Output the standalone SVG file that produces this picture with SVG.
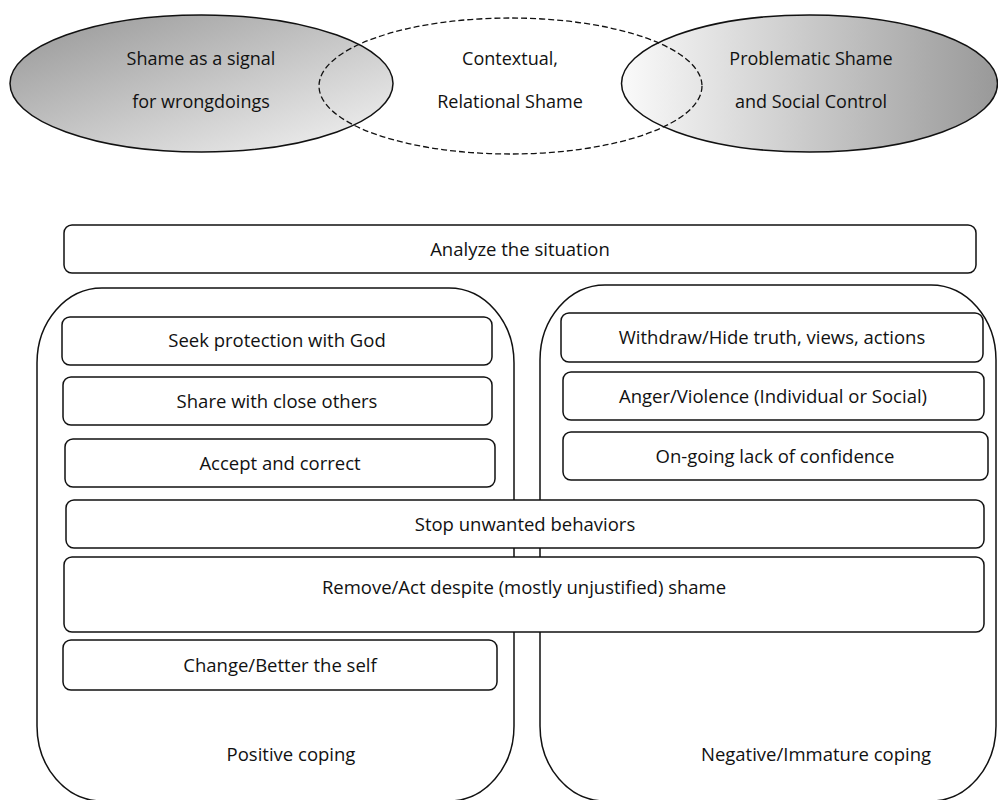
<svg xmlns="http://www.w3.org/2000/svg" width="998" height="800" viewBox="0 0 998 800">
<style>
text{font-family:"Open Sans","Liberation Sans",sans-serif;fill:#111;text-anchor:middle}
.t{font-size:18.5px}
.e{font-size:18px}
.box{fill:#fff;stroke:#111;stroke-width:1.5}
.cont{fill:#fff;stroke:#111;stroke-width:1.5}
</style>
<defs>
<linearGradient id="gL" x1="0" y1="0" x2="1" y2="1">
<stop offset="0" stop-color="#959595"/>
<stop offset="1" stop-color="#f5f5f5"/>
</linearGradient>
<linearGradient id="gR" x1="0" y1="0.5" x2="1" y2="0.5">
<stop offset="0" stop-color="#fafafa"/>
<stop offset="1" stop-color="#999"/>
</linearGradient>
</defs>
<rect width="998" height="800" fill="#fff"/>
<g id="shame-signal">
<ellipse cx="201.5" cy="83.5" rx="191.5" ry="68.5" fill="url(#gL)" stroke="#111" stroke-width="1.5"/>
<text class="e" x="201" y="65">Shame as a signal</text>
<text class="e" x="201" y="108">for wrongdoings</text>
</g>
<g id="problematic-shame">
<ellipse cx="809.5" cy="83.5" rx="188" ry="68.5" fill="url(#gR)" stroke="#111" stroke-width="1.5"/>
<text class="e" x="811" y="65">Problematic Shame</text>
<text class="e" x="811" y="108">and Social Control</text>
</g>
<g id="contextual-shame">
<ellipse cx="510.5" cy="86" rx="191.5" ry="68" fill="none" stroke="#111" stroke-width="1.3" stroke-dasharray="6,3"/>
<text class="e" x="510" y="65">Contextual,</text>
<text class="e" x="510" y="108">Relational Shame</text>
</g>
<g id="analyze">
<rect class="box" x="64" y="225" width="912" height="48" rx="8"/>
<text class="t" x="520" y="255.5">Analyze the situation</text>
</g>
<g id="positive-coping">
<rect class="cont" x="37" y="288" width="477" height="513" rx="65" ry="75"/>
<text class="t" x="291" y="761">Positive coping</text>
</g>
<g id="negative-coping">
<rect class="cont" x="540" y="285" width="456" height="516" rx="65" ry="75"/>
<text class="t" x="816" y="761">Negative/Immature coping</text>
</g>
<g id="seek-protection">
<rect class="box" x="62" y="317" width="430" height="48" rx="8"/>
<text class="t" x="277" y="347">Seek protection with God</text>
</g>
<g id="share">
<rect class="box" x="63" y="377" width="429" height="48" rx="8"/>
<text class="t" x="277" y="407.5">Share with close others</text>
</g>
<g id="accept">
<rect class="box" x="65" y="439" width="430" height="48" rx="8"/>
<text class="t" x="280" y="469.5">Accept and correct</text>
</g>
<g id="withdraw">
<rect class="box" x="561" y="313" width="422" height="49" rx="8"/>
<text class="t" x="772" y="344">Withdraw/Hide truth, views, actions</text>
</g>
<g id="anger">
<rect class="box" x="563" y="372" width="421" height="48" rx="8"/>
<text class="t" x="773" y="402.5">Anger/Violence (Individual or Social)</text>
</g>
<g id="ongoing">
<rect class="box" x="563" y="432" width="425" height="48" rx="8"/>
<text class="t" x="775" y="462.5">On-going lack of confidence</text>
</g>
<g id="stop">
<rect class="box" x="66" y="500" width="918" height="48" rx="8"/>
<text class="t" x="525" y="530.5">Stop unwanted behaviors</text>
</g>
<g id="remove">
<rect class="box" x="64" y="557" width="920" height="75" rx="8"/>
<text class="t" x="524" y="593.5">Remove/Act despite (mostly unjustified) shame</text>
</g>
<g id="change">
<rect class="box" x="63" y="640" width="434" height="50" rx="8"/>
<text class="t" x="280" y="671.5">Change/Better the self</text>
</g>
<g id="connectors"></g>
</svg>
